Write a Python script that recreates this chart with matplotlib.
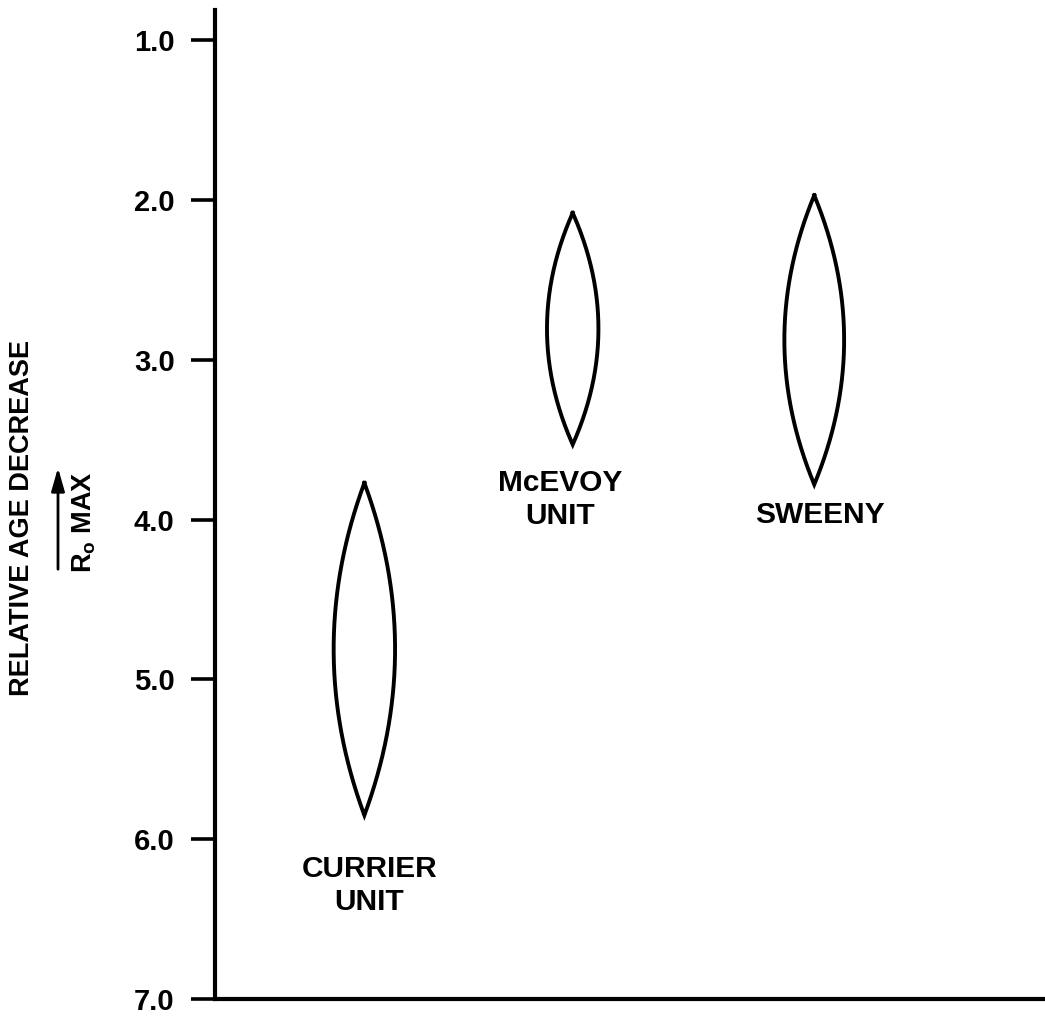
import numpy as np
import matplotlib
matplotlib.use("Agg")
import matplotlib.pyplot as plt

plt.rcParams['font.family'] = ['Liberation Sans', 'DejaVu Sans']
plt.rcParams['mathtext.default'] = 'regular'

# lens ranges (relative age decrease)
units = ['CURRIER\nUNIT', 'McEVOY\nUNIT', 'SWEENY']
x_center = [1.80, 4.31, 7.22]
half_width = [0.37, 0.31, 0.36]
top_val = [3.77, 2.08, 1.97]
bottom_val = [5.85, 3.53, 3.78]
label_x = [1.86, 4.16, 7.29]
label_y = [6.29, 3.875, 3.97]

yticks = [1.0, 2.0, 3.0, 4.0, 5.0, 6.0, 7.0]

fig = plt.figure(figsize=(10.45, 10.17), dpi=100)
ax = fig.add_axes([0.2057, 0.0177, 0.7943, 0.9725])

for xc, hw, t, b in zip(x_center, half_width, top_val, bottom_val):
    y = np.linspace(t, b, 200)
    mid = (t + b) / 2
    h = (b - t) / 2
    w = hw * (1 - ((y - mid) / h) ** 2)
    xs = np.concatenate([xc - w, (xc + w)[::-1], [xc - w[0]]])
    ys = np.concatenate([y, y[::-1], [y[0]]])
    ax.plot(xs, ys, color='black', lw=2.8, solid_joinstyle='miter')

for name, lx, ly in zip(units, label_x, label_y):
    ax.text(lx, ly, name, ha='center', va='center', fontsize=21.5,
            fontweight='bold', linespacing=1.2)

ax.set_xlim(0, 10)
ax.set_ylim(7.0, 0.81)
ax.set_yticks(yticks)
ax.set_yticklabels(['%.1f' % v for v in yticks], fontsize=21,
                   fontweight='bold')
ax.tick_params(axis='y', length=17, width=2.6, pad=12, direction='out')
ax.set_xticks([])
for s in ['top', 'right']:
    ax.spines[s].set_visible(False)
for s in ['left', 'bottom']:
    ax.spines[s].set_linewidth(3.0)

# y label with arrow
fig.text(22 / 1045, 1 - 518 / 1017, 'RELATIVE AGE DECREASE', rotation=90,
         ha='center', va='center', fontsize=19.5, fontweight='bold')
fig.text(84 / 1045, 1 - 522 / 1017, 'R$_o$ MAX', rotation=90,
         ha='center', va='center', fontsize=19.5, fontweight='bold')
fig.patches.append(matplotlib.patches.FancyArrowPatch(
    (58 / 1045, 1 - 572 / 1017), (58 / 1045, 1 - 465 / 1017),
    transform=fig.transFigure, arrowstyle='-|>,head_length=14,head_width=4',
    color='black', lw=2.0, mutation_scale=1))

fig.savefig('out.png', dpi=100)
